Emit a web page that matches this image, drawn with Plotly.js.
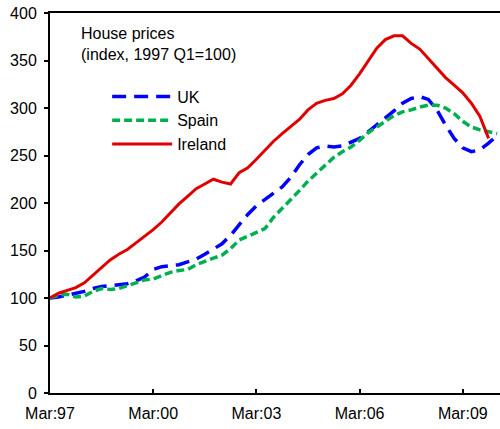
<!DOCTYPE html>
<html>
<head>
<meta charset="utf-8">
<script src="https://cdn.plot.ly/plotly-3.0.1.min.js"></script>
<style>html,body{margin:0;padding:0;background:#fff;}#chart{width:500px;height:429px;}</style>
</head>
<body>
<div id="chart"></div>
<script>
const quarters = [
  "1997Q1","1997Q2","1997Q3","1997Q4","1998Q1","1998Q2","1998Q3","1998Q4",
  "1999Q1","1999Q2","1999Q3","1999Q4","2000Q1","2000Q2","2000Q3","2000Q4",
  "2001Q1","2001Q2","2001Q3","2001Q4","2002Q1","2002Q2","2002Q3","2002Q4",
  "2003Q1","2003Q2","2003Q3","2003Q4","2004Q1","2004Q2","2004Q3","2004Q4",
  "2005Q1","2005Q2","2005Q3","2005Q4","2006Q1","2006Q2","2006Q3","2006Q4",
  "2007Q1","2007Q2","2007Q3","2007Q4","2008Q1","2008Q2","2008Q3","2008Q4",
  "2009Q1","2009Q2","2009Q3","2009Q4","2010Q1"
];
const uk = [100,101,103,105,107,110,112,113,114,115,118,122,130,133,134,135,
  138,141,146,152,157,166,177,188,197,204,211,217,227,240,251,258,
  260,259,260,264,268,275,282,289,297,305,310,312,309,298,282,268,
  258,254,256,263,271];
const spain = [100,103,104,101,102,107,110,109,110,113,116,119,120,124,127,129,
  130,135,139,142,145,152,161,165,168,173,185,194,203,213,223,231,
  240,248,254,259,266,274,280,286,292,296,298,301,303,303,300,294,
  286,280,277,275,273];
const ireland = [100,105,108,111,116,124,133,140,146,151,158,165,172,180,190,199,
  207,215,220,225,222,220,232,237,246,256,265,273,281,288,298,305,
  308,310,315,324,336,350,363,372,376,376,368,362,352,341,332,324,
  316,305,291,268];
const tickQuarters = ["1997Q1","2000Q1","2003Q1","2006Q1","2009Q1"];
const tickLabels = ["Mar:97","Mar:00","Mar:03","Mar:06","Mar:09"];

const font = "Arial, 'Liberation Sans', sans-serif";
const traces = [
  {x: quarters.slice(0, uk.length), y: uk, name: "UK", type: "scatter", mode: "lines",
   line: {color: "#0000FF", width: 3.5, dash: "14px,8px"}},
  {x: quarters.slice(0, spain.length), y: spain, name: "Spain", type: "scatter", mode: "lines",
   line: {color: "#00B050", width: 3.5, dash: "8px,4px"}},
  {x: quarters.slice(0, ireland.length), y: ireland, name: "Ireland", type: "scatter", mode: "lines",
   line: {color: "#E00000", width: 3}}
];
const layout = {
  width: 500, height: 429,
  margin: {l: 50, r: 0, t: 13, b: 36, pad: 0},
  paper_bgcolor: "#fff", plot_bgcolor: "#fff",
  font: {family: font, size: 16, color: "#000"},
  showlegend: true,
  legend: {x: 0.127, y: 0.825, xanchor: "left", yanchor: "top", bgcolor: "rgba(0,0,0,0)",
    font: {family: font, size: 16, color: "#000"}, itemwidth: 60, tracegroupgap: 0},
  xaxis: {type: "category", categoryorder: "array", categoryarray: quarters,
    range: [0, 52.33], tickmode: "array", tickvals: tickQuarters, ticktext: tickLabels,
    ticks: "inside", ticklen: 4, tickwidth: 2, tickcolor: "#000",
    showline: true, linecolor: "#000", linewidth: 2, mirror: true,
    showgrid: false, zeroline: false, ticklabelstandoff: 5,
    tickfont: {family: font, size: 16, color: "#000"}, fixedrange: true},
  yaxis: {range: [0, 400], dtick: 50, tick0: 0,
    ticks: "outside", ticklen: 4, tickwidth: 2, tickcolor: "#000",
    showline: true, linecolor: "#000", linewidth: 2, mirror: false,
    showgrid: false, zeroline: false, ticklabelstandoff: 4,
    tickfont: {family: font, size: 16, color: "#000"}, fixedrange: true},
  annotations: [{
    text: "House prices<br>(index, 1997 Q1=100)", xref: "paper", yref: "paper",
    x: 0.064, y: 0.973, xanchor: "left", yanchor: "top", align: "left", showarrow: false,
    font: {family: font, size: 16, color: "#000"}
  }]
};
Plotly.newPlot("chart", traces, layout, {displayModeBar: false, staticPlot: true});
</script>
</body>
</html>
